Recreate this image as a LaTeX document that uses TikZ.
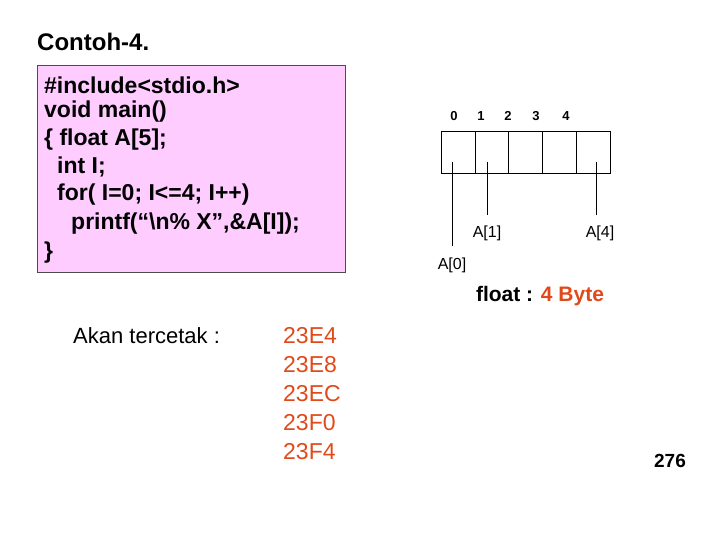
\documentclass[tikz,border=0pt]{standalone}
\usepackage{fontspec}
\setmainfont{Liberation Sans}
\definecolor{pinkbg}{HTML}{FFCCFF}
\definecolor{redorange}{HTML}{E04A1A}
\begin{document}
\begin{tikzpicture}[x=1pt,y=-1pt,
  code/.style={anchor=west,inner sep=0,font=\fontsize{23}{26}\selectfont\bfseries},
  idx/.style={inner sep=0,font=\fontsize{13}{14}\selectfont\bfseries},
  lab/.style={inner sep=0,font=\fontsize{16}{18}\selectfont},
  outtxt/.style={anchor=west,inner sep=0,text=redorange,font=\fontsize{23}{26}\selectfont}]
\path[use as bounding box] (0,0) rectangle (720,540);
\node[anchor=west,inner sep=0,font=\fontsize{24}{26}\selectfont\bfseries] (title) at (37,42) {Contoh-4.};
\draw[fill=pinkbg,draw=black!70] (37,65) rectangle (345,272);
\node[code] (c1) at (44,85) {\#include<stdio.h>};
\node[code] (c2) at (44,112) {void main()};
\node[code] (c3) at (44,140) {\{ float A[5];};
\node[code] (c4) at (57,167) {int I;};
\node[code] (c5) at (57,195) {for( I=0; I<=4; I++)};
\node[code] (c6) at (71,224) {printf(“\textbackslash n\% X”,\&A[I]);};
\node[code] (c7) at (44,253) {\}};
\foreach \i/\x in {0/454,1/481,2/508,3/536,4/566} \node[idx] (i\i) at (\x,116) {\i};
\foreach \a/\b in {441/475,475/508,508/542,542/576,576/610}
  \draw (\a,131) rectangle (\b,173);
\node[lab] (a0) at (452,265) {A[0]};
\node[lab] (a1) at (487,233) {A[1]};
\node[lab] (a4) at (600,233) {A[4]};
\coordinate (p0) at (452,162);
\coordinate (p1) at (487,162);
\coordinate (p4) at (596,162);
\draw (p0) -- (452,246);
\draw (p1) -- (487,215);
\draw (p4) -- (596,215);
\node[inner sep=0,font=\fontsize{21}{22}\selectfont] (fl) at (540,296) {\bfseries float : \textcolor{redorange}{4 Byte}};
\node[anchor=west,inner sep=0,font=\fontsize{22}{24}\selectfont] (ak) at (73,336) {Akan tercetak :};
\foreach \t [count=\k from 0] in {23E4,23E8,23EC,23F0,23F4}
  \node[outtxt] (o\k) at (283,336+29*\k) {\t};
\node[inner sep=0,font=\fontsize{19}{20}\selectfont\bfseries] (pg) at (670,461) {276};
\end{tikzpicture}
\end{document}
